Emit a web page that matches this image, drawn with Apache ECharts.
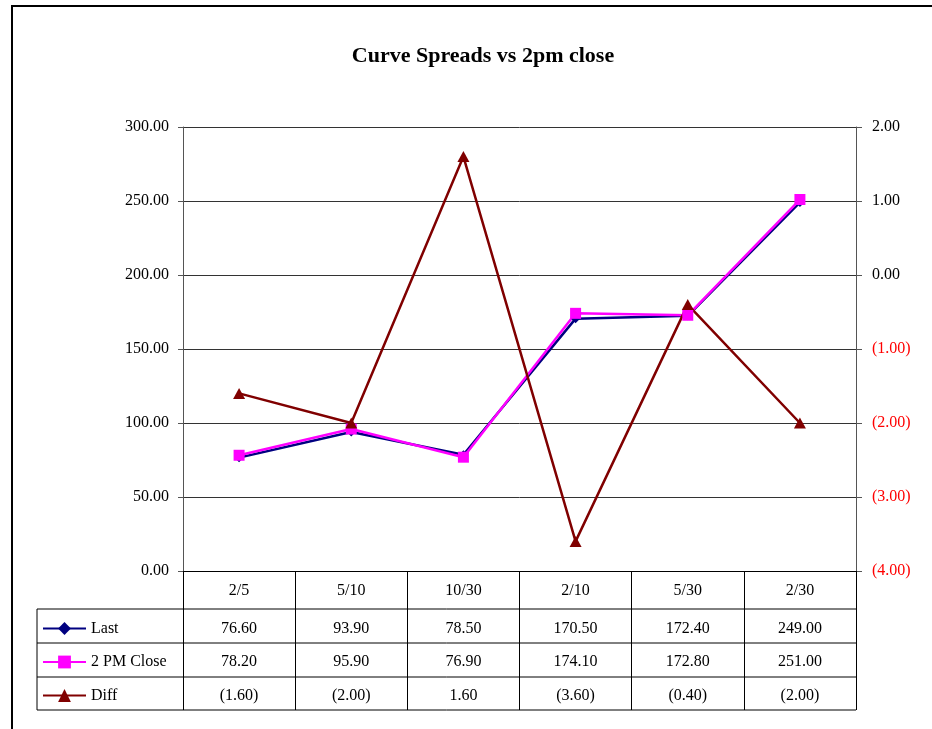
<!DOCTYPE html>
<html>
<head>
<meta charset="utf-8">
<script src="https://cdn.jsdelivr.net/npm/echarts@6/dist/echarts.min.js"></script>
<style>
html,body{margin:0;padding:0;background:#fff;}
#c{width:932px;height:729px;}
</style>
</head>
<body>
<div id="c"></div>
<script>
const categories = ['2/5', '5/10', '10/30', '2/10', '5/30', '2/30'];
const lastValues = [76.60, 93.90, 78.50, 170.50, 172.40, 249.00];
const closeValues = [78.20, 95.90, 76.90, 174.10, 172.80, 251.00];
const diffValues = [-1.60, -2.00, 1.60, -3.60, -0.40, -2.00];
const seriesNames = ['Last', '2 PM Close', 'Diff'];
const titleText = 'Curve Spreads vs 2pm close';

const FONT = '"Liberation Serif", "DejaVu Serif", serif';
const W = 932, H = 729;
const G = {left: 183, right: 76, top: 127, bottom: 158};
const plotRight = W - G.right;
const plotBottom = H - G.bottom;
const rowLines = [609, 643, 677, 710];
const tableLeft = 37;

function fmt(v) {
  const s = Math.abs(v).toFixed(2);
  return v < 0 ? '(' + s + ')' : s;
}

const tableRows = [lastValues, closeValues, diffValues];
const rowCenters = [628.5, 661.5, 695.5];

const xAxes = [{
  type: 'category',
  data: categories,
  gridIndex: 0,
  position: 'bottom',
  boundaryGap: true,
  axisLine: {show: true, lineStyle: {color: '#000', width: 1}},
  axisTick: {show: true, interval: 0, length: rowLines[rowLines.length - 1] - plotBottom, lineStyle: {color: '#000', width: 1}},
  axisLabel: {interval: 0, margin: 12, fontFamily: FONT, fontSize: 16, color: '#000', lineHeight: 16},
  splitLine: {show: false}
}];
tableRows.forEach(function (row, i) {
  const off = rowLines[i] - plotBottom;
  xAxes.push({
    type: 'category',
    data: categories,
    gridIndex: 0,
    position: 'bottom',
    offset: off,
    boundaryGap: true,
    axisLine: {show: false},
    axisTick: {show: false},
    axisLabel: {
      interval: 0,
      margin: rowCenters[i] - rowLines[i] - 8,
      fontFamily: FONT, fontSize: 16, color: '#000', lineHeight: 16,
      formatter: function (v, idx) { return fmt(row[idx]); }
    },
    splitLine: {show: false}
  });
});

const chart = echarts.init(document.getElementById('c'), null, {renderer: 'canvas'});

const graphics = [
  {type: 'rect', shape: {x: 12, y: 6, width: 940, height: 760}, style: {fill: 'none', stroke: '#000', lineWidth: 2}, silent: true, z: -1},
  {type: 'line', shape: {x1: tableLeft, y1: rowLines[0], x2: tableLeft, y2: rowLines[3]}, style: {stroke: '#000', lineWidth: 1}}
];
rowLines.forEach(function (y) {
  graphics.push({type: 'line', shape: {x1: tableLeft, y1: y, x2: plotRight, y2: y}, style: {stroke: '#000', lineWidth: 1}});
});

chart.setOption({
  animation: false,
  backgroundColor: '#fff',
  title: {
    text: titleText,
    left: 478, top: 40, textAlign: 'center',
    textStyle: {fontFamily: FONT, fontSize: 22, fontWeight: 'bold', color: '#000'}
  },
  legend: {
    orient: 'vertical',
    left: 42, top: 620.5, padding: 0,
    itemWidth: 43, itemHeight: 16, itemGap: 17.5,
    textStyle: {fontFamily: FONT, fontSize: 16, color: '#000', lineHeight: 16},
    data: seriesNames
  },
  grid: {left: G.left, right: G.right, top: G.top, bottom: G.bottom, containLabel: false},
  xAxis: xAxes,
  yAxis: [{
    type: 'value', min: 0, max: 300, interval: 50, position: 'left',
    axisLine: {show: true, lineStyle: {color: '#555', width: 1}},
    axisTick: {show: true, length: 5, lineStyle: {color: '#555'}},
    axisLabel: {margin: 14, fontFamily: FONT, fontSize: 16, color: '#000', formatter: function (v) { return v.toFixed(2); }},
    splitLine: {show: true, lineStyle: {color: '#333', width: 1}}
  }, {
    type: 'value', min: -4, max: 2, interval: 1, position: 'right',
    axisLine: {show: true, lineStyle: {color: '#555', width: 1}},
    axisTick: {show: true, length: 6, lineStyle: {color: '#555'}},
    axisLabel: {margin: 16, fontFamily: FONT, fontSize: 16,
      color: function (v) { return Number(v) < 0 ? '#FF0000' : '#000'; },
      formatter: function (v) { return fmt(v); }},
    splitLine: {show: false}
  }],
  series: [{
    name: seriesNames[0], type: 'line', xAxisIndex: 0, yAxisIndex: 0, data: lastValues,
    symbol: 'diamond', symbolSize: 9,
    itemStyle: {color: '#000080'}, lineStyle: {color: '#000080', width: 2.5}
  }, {
    name: seriesNames[1], type: 'line', xAxisIndex: 0, yAxisIndex: 0, data: closeValues,
    symbol: 'rect', symbolSize: 11,
    itemStyle: {color: '#FF00FF'}, lineStyle: {color: '#FF00FF', width: 2.5}
  }, {
    name: seriesNames[2], type: 'line', xAxisIndex: 0, yAxisIndex: 1, data: diffValues,
    symbol: 'triangle', symbolSize: [12, 11],
    itemStyle: {color: '#800000'}, lineStyle: {color: '#800000', width: 2.5}
  }],
  graphic: graphics
});
</script>
</body>
</html>
